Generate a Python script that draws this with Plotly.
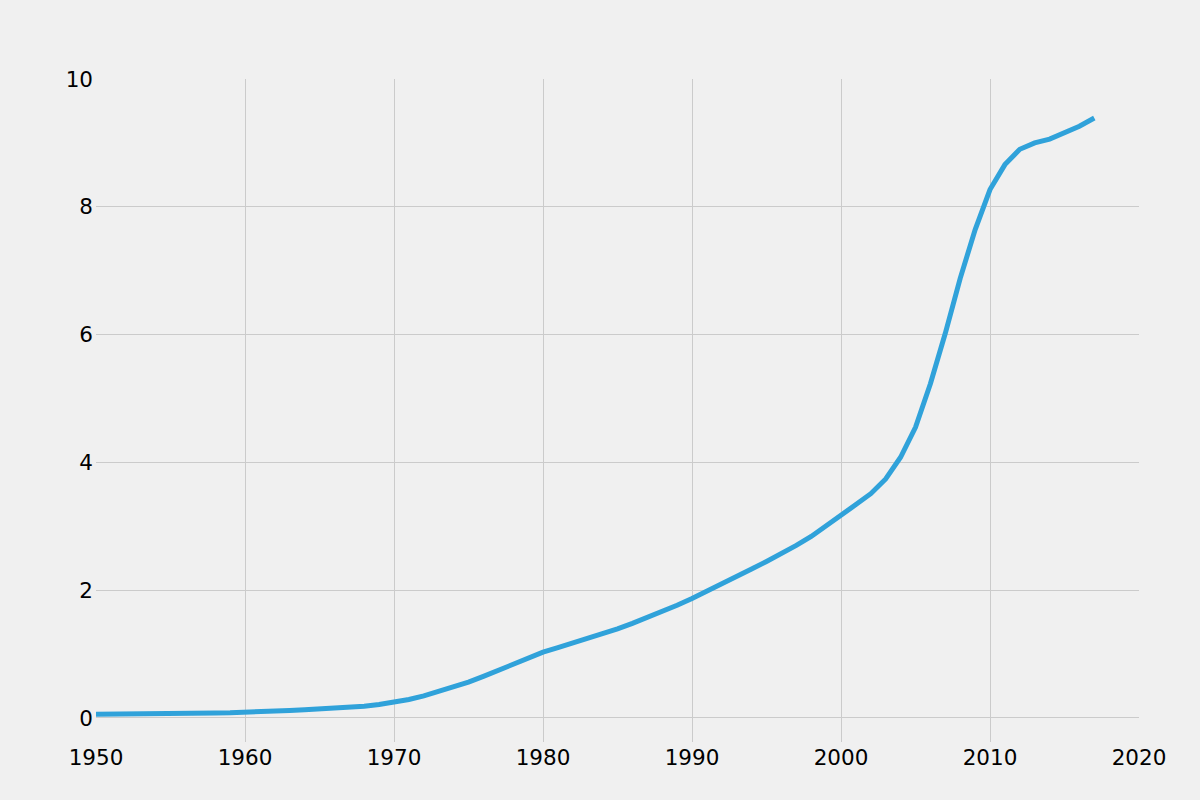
import plotly.graph_objects as go

years = list(range(1950, 2018))
values = [
    0.06, 0.06, 0.062, 0.065, 0.068, 0.07, 0.073, 0.076, 0.079, 0.082,  # 1950-1959
    0.087, 0.095, 0.105, 0.117, 0.13, 0.142, 0.155, 0.168, 0.185, 0.21,  # 1960-1969
    0.245, 0.29, 0.345, 0.41, 0.48, 0.56, 0.65, 0.75, 0.85, 0.945,      # 1970-1979
    1.03, 1.10, 1.17, 1.24, 1.315, 1.395, 1.48, 1.57, 1.665, 1.765,     # 1980-1989
    1.87, 1.98, 2.09, 2.21, 2.33, 2.45, 2.57, 2.70, 2.84, 3.00,         # 1990-1999
    3.17, 3.34, 3.51, 3.74, 4.08, 4.55, 5.23, 6.02, 6.88, 7.64,         # 2000-2009
    8.27, 8.66, 8.90, 9.00, 9.06, 9.15, 9.26, 9.39,                     # 2010-2017
]

x_ticks = [1950, 1960, 1970, 1980, 1990, 2000, 2010, 2020]
y_ticks = [0, 2, 4, 6, 8, 10]

BG = "#f0f0f0"
GRID = "#cbcbcb"
FONT = "DejaVu Sans"

fig = go.Figure()
fig.add_trace(go.Scatter(
    x=years, y=values, mode="lines",
    line=dict(color="#30a2da", width=5),
    showlegend=False, hoverinfo="skip",
))

fig.update_layout(
    width=1200, height=800,
    paper_bgcolor=BG, plot_bgcolor=BG,
    margin=dict(l=96, r=61, t=79, b=58),
    font=dict(family=FONT, size=21.5, color="#000000"),
    showlegend=False,
)
fig.update_xaxes(
    range=[1950, 2020], tickvals=x_ticks, ticktext=[str(v) for v in x_ticks],
    showgrid=True, gridcolor=GRID, gridwidth=1.3,
    zeroline=False, showline=False, ticks="",
    ticklabelstandoff=0,
)
fig.update_yaxes(
    range=[-0.376, 10], tickvals=y_ticks, ticktext=[str(v) for v in y_ticks],
    showgrid=True, gridcolor=GRID, gridwidth=1.3,
    zeroline=False, showline=False, ticks="",
    ticklabelstandoff=2,
)

fig.write_html("out.html")
